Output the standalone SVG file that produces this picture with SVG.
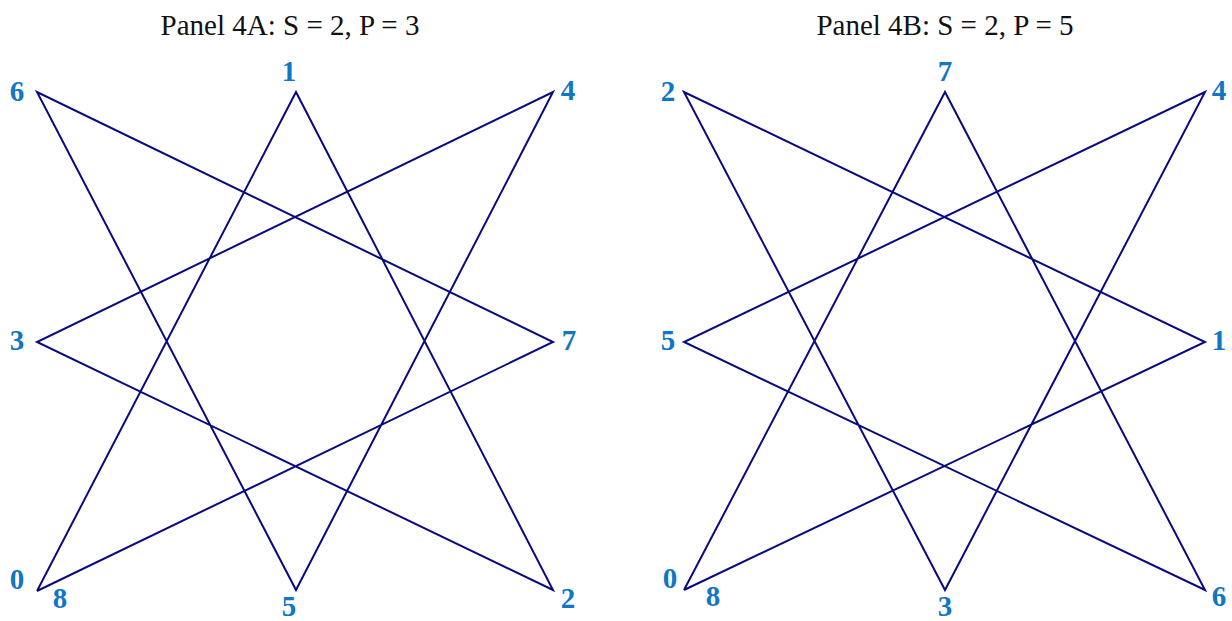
<svg xmlns="http://www.w3.org/2000/svg" width="1232" height="621" viewBox="0 0 1232 621">
<style>
.title{font-family:"Liberation Serif","DejaVu Serif",serif;font-size:29px;fill:#111;text-anchor:middle}
.lbl{font-family:"Liberation Serif","DejaVu Serif",serif;font-size:29px;font-weight:bold;fill:#1176c4;text-anchor:middle}
.edge{fill:none;stroke:#0a0a80;stroke-width:2;stroke-linejoin:miter}
</style>
<rect width="1232" height="621" fill="#fff"/>
<text class="title" x="290" y="35">Panel 4A: S = 2, P = 3</text>
<text class="title" x="945" y="35">Panel 4B: S = 2, P = 5</text>
<g id="connectors">
<polyline class="edge" points="37,591 296,92 553,590 37,342 553,92 296,590 37,92 553,342 37,591"/>
<polyline class="edge" points="684,590 1205,342 684,92 945,590 1205,92 684,342 1205,590 945,92 684,590"/>
</g>
<g id="panelA">
<g id="a0"><text class="lbl" x="17" y="589">0</text></g>
<g id="a1"><text class="lbl" x="289" y="81">1</text></g>
<g id="a2"><text class="lbl" x="568" y="608">2</text></g>
<g id="a3"><text class="lbl" x="17" y="350">3</text></g>
<g id="a4"><text class="lbl" x="568" y="100">4</text></g>
<g id="a5"><text class="lbl" x="289" y="616">5</text></g>
<g id="a6"><text class="lbl" x="17" y="101">6</text></g>
<g id="a7"><text class="lbl" x="569" y="350">7</text></g>
<g id="a8"><text class="lbl" x="60" y="608">8</text></g>
</g>
<g id="panelB">
<g id="b0"><text class="lbl" x="670" y="588">0</text></g>
<g id="b1"><text class="lbl" x="1219" y="350">1</text></g>
<g id="b2"><text class="lbl" x="668" y="101">2</text></g>
<g id="b3"><text class="lbl" x="945" y="616">3</text></g>
<g id="b4"><text class="lbl" x="1219" y="100">4</text></g>
<g id="b5"><text class="lbl" x="668" y="350">5</text></g>
<g id="b6"><text class="lbl" x="1219" y="606">6</text></g>
<g id="b7"><text class="lbl" x="945" y="81">7</text></g>
<g id="b8"><text class="lbl" x="713" y="606">8</text></g>
</g>
</svg>
